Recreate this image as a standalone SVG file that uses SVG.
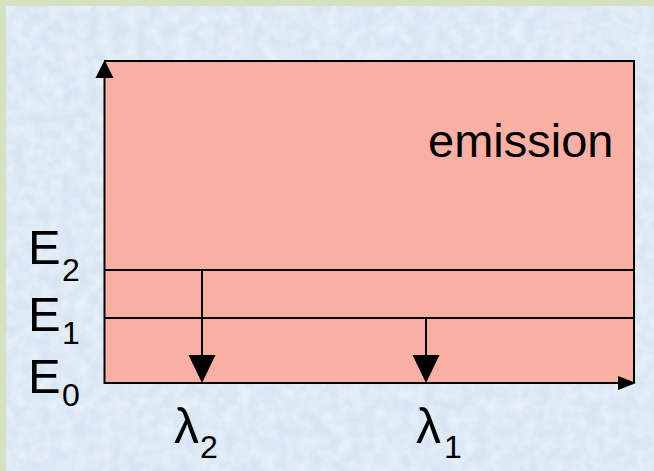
<svg xmlns="http://www.w3.org/2000/svg" width="654" height="471" viewBox="0 0 654 471">
  <style>
    .ln { stroke: #000; stroke-width: 2; fill: none; }
    .lbl { font-family: "Liberation Sans", Arial, sans-serif; fill: #000; }
    .big { font-size: 47px; }
    .ee { font-size: 49px; }
    .sub { font-size: 32px; }
    .lam { font-size: 50px; }
  </style>
  <defs>
    <filter id="tex" x="0" y="0" width="100%" height="100%">
      <feTurbulence type="fractalNoise" baseFrequency="0.08" numOctaves="3" seed="4" result="n"/>
      <feColorMatrix in="n" type="matrix" values="0 0 0 0 1  0 0 0 0 1  0 0 0 0 1  0 0 0 -1.6 1.05" />
    </filter>
  </defs>
  <g id="background">
    <rect x="0" y="0" width="654" height="471" fill="#d6e2bf"/>
    <rect x="6" y="6" width="648" height="465" fill="#d9e7f4"/>
    <rect x="6" y="6" width="648" height="465" fill="#ffffff" filter="url(#tex)" opacity="0.5"/>
  </g>
  <g id="emission-box">
    <rect x="104" y="61" width="530" height="322" fill="#f8b0a5"/>
    <path class="ln" d="M104,61 H634 V383"/>
    <text class="lbl big" x="428" y="157">emission</text>
  </g>
  <g id="levels">
    <line class="ln" x1="104" y1="270" x2="634" y2="270"/>
    <line class="ln" x1="104" y1="318" x2="634" y2="318"/>
  </g>
  <g id="connectors">
    <line class="ln" x1="104.5" y1="384" x2="104.5" y2="76"/>
    <path d="M104.5,60 L113.5,78 L95.5,78 Z" fill="#000"/>
    <line class="ln" x1="104" y1="383" x2="620" y2="383"/>
    <path d="M636,383 L618,376 L618,390 Z" fill="#000"/>
    <line class="ln" x1="202" y1="270" x2="202" y2="358"/>
    <path d="M202,383 L188.5,355 L215.5,355 Z" fill="#000"/>
    <line class="ln" x1="426" y1="318" x2="426" y2="358"/>
    <path d="M426,383 L412.5,355 L439.5,355 Z" fill="#000"/>
  </g>
  <g id="label-E2">
    <text class="lbl ee" x="28" y="264">E</text>
    <text class="lbl sub" x="62" y="281">2</text>
  </g>
  <g id="label-E1">
    <text class="lbl ee" x="28" y="331">E</text>
    <text class="lbl sub" x="62" y="344">1</text>
  </g>
  <g id="label-E0">
    <text class="lbl ee" x="28" y="393">E</text>
    <text class="lbl sub" x="62" y="406">0</text>
  </g>
  <g id="label-lambda2">
    <text class="lbl lam" x="174" y="443">λ</text>
    <text class="lbl sub" x="200" y="458">2</text>
  </g>
  <g id="label-lambda1">
    <text class="lbl lam" x="416" y="443">λ</text>
    <text class="lbl sub" x="444" y="458">1</text>
  </g>
</svg>
